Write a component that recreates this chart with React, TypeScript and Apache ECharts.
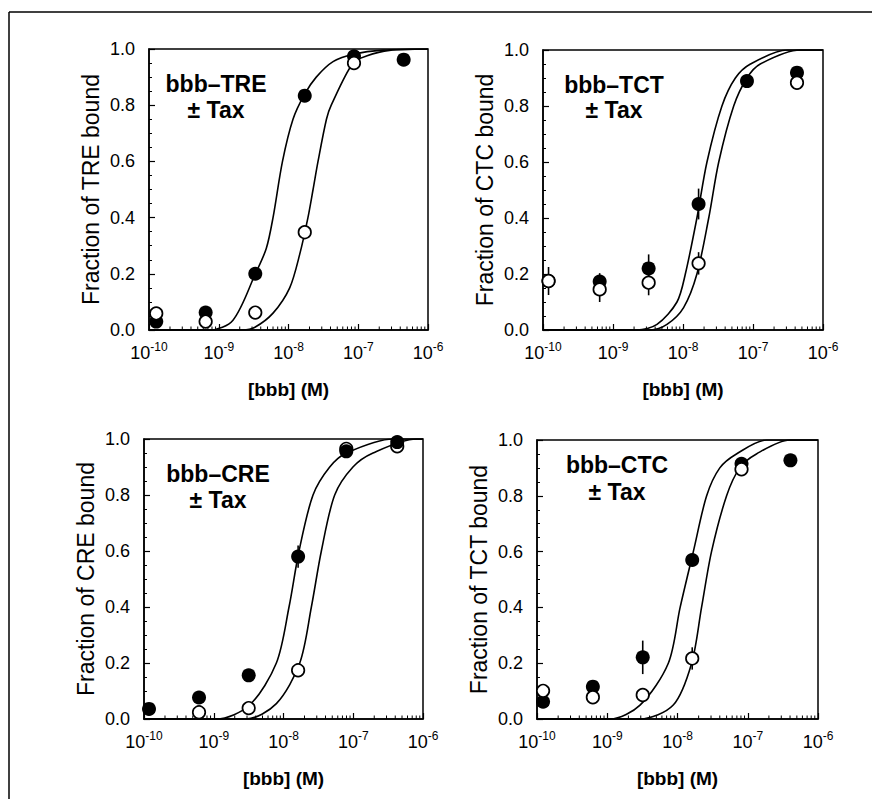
import React, { useEffect, useRef } from "react";
import * as echarts from "echarts";

const FONT = '"Liberation Sans", Arial, Helvetica, sans-serif';

// axis ticks
const X_MIN = 1e-10;
const X_MAX = 1e-6;
const MINOR_MULT = [2, 3, 4, 5, 6, 7, 8, 9];
const DECADES = [-10, -9, -8, -7];

// Panel 1: bbb-TRE
const P1_TITLE = "bbb\u2013TRE";
const P1_YNAME = "Fraction of TRE bound";
const P1_CONC = [1.27e-10, 6.49e-10, 3.34e-9, 1.71e-8, 8.69e-8, 4.48e-7];
const P1_FILLED = [0.03, 0.062, 0.2, 0.834, 0.974, 0.962];
const P1_OPEN = [0.059, 0.03, 0.062, 0.348, 0.95, null];
const P1_FILLED_ERR = [0, 0, 0, 0, 0, 0];
const P1_OPEN_ERR = [0, 0, 0, 0, 0, 0];
const P1_CURVE_FILLED = [
  [1e-10, 0], [7.4e-10, 0], [1.6e-9, 0.035], [3.35e-9, 0.2], [4.8e-9, 0.29], [6.0e-9, 0.4],
  [8.2e-9, 0.6], [1.16e-8, 0.75], [1.71e-8, 0.84], [2.5e-8, 0.9], [4.35e-8, 0.955],
  [8.7e-8, 0.982], [2.26e-7, 0.996], [1e-6, 1.0],
];
const P1_CURVE_OPEN = [
  [1e-10, 0], [2.2e-9, 0], [3.3e-9, 0.01], [6.0e-9, 0.06], [1.04e-8, 0.15], [1.45e-8, 0.27],
  [1.9e-8, 0.4], [2.25e-8, 0.5], [2.65e-8, 0.6], [3.5e-8, 0.75], [4.1e-8, 0.8],
  [8.4e-8, 0.95], [1.31e-7, 0.975], [2.8e-7, 0.995], [1e-6, 1.0],
];

// Panel 2: bbb-TCT
const P2_TITLE = "bbb\u2013TCT";
const P2_YNAME = "Fraction of CTC bound";
const P2_CONC = [1.2e-10, 6.45e-10, 3.23e-9, 1.67e-8, 8.2e-8, 4.25e-7];
const P2_FILLED = [0.175, 0.173, 0.22, 0.45, 0.889, 0.919];
const P2_OPEN = [0.175, 0.145, 0.169, 0.238, null, 0.883];
const P2_FILLED_ERR = [0, 0.03, 0.05, 0.055, 0, 0];
const P2_OPEN_ERR = [0.05, 0.045, 0.045, 0.04, 0, 0];
const P2_CURVE_FILLED = [
  [1e-10, 0], [2.2e-9, 0], [4.25e-9, 0.02], [8.2e-9, 0.1], [1.08e-8, 0.2], [1.58e-8, 0.4],
  [2.2e-8, 0.6], [3.6e-8, 0.8], [5.6e-8, 0.9], [9.2e-8, 0.95], [3.06e-7, 1.0], [1e-6, 1.0],
];
const P2_CURVE_OPEN = [
  [1e-10, 0], [3.4e-9, 0], [5.9e-9, 0.02], [1.02e-8, 0.08], [1.58e-8, 0.2], [2.33e-8, 0.4],
  [3.24e-8, 0.6], [5.3e-8, 0.8], [8.2e-8, 0.9], [1.27e-7, 0.95], [4.74e-7, 1.0], [1e-6, 1.0],
];

// Panel 3: bbb-CRE
const P3_TITLE = "bbb\u2013CRE";
const P3_YNAME = "Fraction of CRE bound";
const P3_CONC = [1.18e-10, 6.15e-10, 3.17e-9, 1.62e-8, 7.95e-8, 4.27e-7];
const P3_FILLED = [0.036, 0.077, 0.156, 0.58, 0.956, 0.989];
const P3_OPEN = [null, 0.024, 0.039, 0.174, 0.965, 0.974];
const P3_FILLED_ERR = [0, 0, 0, 0.04, 0, 0];
const P3_OPEN_ERR = [0, 0, 0, 0, 0, 0];
const P3_CURVE_FILLED = [
  [1e-10, 0], [1.09e-9, 0], [3.27e-9, 0.05], [7.9e-9, 0.2], [1.2e-8, 0.4], [1.67e-8, 0.6],
  [2.65e-8, 0.8], [4.6e-8, 0.9], [8.0e-8, 0.95], [3.72e-7, 1.0], [1e-6, 1.0],
];
const P3_CURVE_OPEN = [
  [1e-10, 0], [2.9e-9, 0], [7.9e-9, 0.055], [1.71e-8, 0.2], [2.51e-8, 0.4], [3.49e-8, 0.6],
  [5.42e-8, 0.8], [9.9e-8, 0.9], [1.92e-7, 0.95], [8.0e-7, 1.0], [1e-6, 1.0],
];

// Panel 4: bbb-CTC
const P4_TITLE = "bbb\u2013CTC";
const P4_YNAME = "Fraction of TCT bound";
const P4_CONC = [1.22e-10, 6.24e-10, 3.2e-9, 1.62e-8, 8.15e-8, 4.05e-7];
const P4_FILLED = [0.062, 0.116, 0.221, 0.57, 0.915, 0.927];
const P4_OPEN = [0.101, 0.078, 0.086, 0.217, 0.895, null];
const P4_FILLED_ERR = [0, 0, 0.06, 0.02, 0, 0];
const P4_OPEN_ERR = [0, 0, 0, 0.04, 0, 0];
const P4_CURVE_FILLED = [
  [1e-10, 0], [1.1e-9, 0], [2.93e-9, 0.05], [7.4e-9, 0.2], [1.09e-8, 0.4], [1.68e-8, 0.6],
  [2.6e-8, 0.8], [4.0e-8, 0.9], [6.9e-8, 0.95], [1.85e-7, 1.0], [1e-6, 1.0],
];
const P4_CURVE_OPEN = [
  [1e-10, 0], [2.93e-9, 0], [8.7e-9, 0.05], [1.59e-8, 0.2], [2.2e-8, 0.4], [3.05e-8, 0.6],
  [5.0e-8, 0.8], [7.7e-8, 0.9], [1.33e-7, 0.95], [3.96e-7, 1.0], [1e-6, 1.0],
];

const PANELS = [
  { title: P1_TITLE, yName: P1_YNAME, conc: P1_CONC, filled: P1_FILLED, open: P1_OPEN, fErr: P1_FILLED_ERR, oErr: P1_OPEN_ERR, cF: P1_CURVE_FILLED, cO: P1_CURVE_OPEN, openTop: true,
    grid: { left: 149, top: 49, width: 279, height: 281 }, titlePos: [216, 84, 110] },
  { title: P2_TITLE, yName: P2_YNAME, conc: P2_CONC, filled: P2_FILLED, open: P2_OPEN, fErr: P2_FILLED_ERR, oErr: P2_OPEN_ERR, cF: P2_CURVE_FILLED, cO: P2_CURVE_OPEN, openTop: true,
    grid: { left: 543, top: 50, width: 280, height: 280 }, titlePos: [614, 85, 110] },
  { title: P3_TITLE, yName: P3_YNAME, conc: P3_CONC, filled: P3_FILLED, open: P3_OPEN, fErr: P3_FILLED_ERR, oErr: P3_OPEN_ERR, cF: P3_CURVE_FILLED, cO: P3_CURVE_OPEN, openTop: false,
    grid: { left: 144, top: 439, width: 279, height: 280 }, titlePos: [218, 474, 500] },
  { title: P4_TITLE, yName: P4_YNAME, conc: P4_CONC, filled: P4_FILLED, open: P4_OPEN, fErr: P4_FILLED_ERR, oErr: P4_OPEN_ERR, cF: P4_CURVE_FILLED, cO: P4_CURVE_OPEN, openTop: true,
    grid: { left: 537, top: 440, width: 281, height: 279 }, titlePos: [617, 465, 492] },
];

function buildOption() {
  const grids: any[] = [];
  const xAxes: any[] = [];
  const yAxes: any[] = [];
  const series: any[] = [];
  const graphics: any[] = [];

  const minorVals: number[] = [];
  DECADES.forEach((d) => MINOR_MULT.forEach((m) => minorVals.push(m * Math.pow(10, d))));

  PANELS.forEach((p, i) => {
    grids.push({ ...p.grid, show: true, borderColor: "#000", borderWidth: 1.5, backgroundColor: "transparent" });
    xAxes.push({
      type: "log", logBase: 10, gridIndex: i, min: X_MIN, max: X_MAX,
      name: "[bbb] (M)", nameLocation: "middle", nameGap: 50,
      nameTextStyle: { fontFamily: FONT, fontSize: 19, fontWeight: "bold", color: "#000" },
      axisLine: { show: true, lineStyle: { color: "#000", width: 1.5 } },
      axisTick: { show: true, inside: true, length: 6, lineStyle: { color: "#000", width: 1.2 } },
      minorTick: { show: false },
      splitLine: { show: false },
      axisLabel: {
        margin: 11, color: "#000", fontFamily: FONT,
        formatter: (v: number) => `{b|10}{s|${Math.round(Math.log10(v))}}`,
        rich: {
          b: { fontSize: 18, fontFamily: FONT, color: "#000" },
          s: { fontSize: 12, fontFamily: FONT, color: "#000", padding: [0, 0, 11, 0] },
        },
      },
    });
    yAxes.push({
      type: "value", gridIndex: i, min: 0, max: 1, interval: 0.2,
      name: p.yName, nameLocation: "middle", nameGap: 47,
      nameTextStyle: { fontFamily: FONT, fontSize: 23, color: "#000" },
      axisLine: { show: true, lineStyle: { color: "#000", width: 1.5 } },
      axisTick: { show: true, inside: true, length: 6, lineStyle: { color: "#000", width: 1.2 } },
      minorTick: { show: true, splitNumber: 4, length: 3, lineStyle: { color: "#000", width: 1 } },
      splitLine: { show: false },
      axisLabel: { margin: 14, color: "#000", fontFamily: FONT, fontSize: 18, formatter: (v: number) => v.toFixed(1) },
    });

    const lineCommon = {
      type: "line", xAxisIndex: i, yAxisIndex: i, showSymbol: false, symbol: "none",
      smooth: 0.3, clip: true, silent: true,
      lineStyle: { color: "#000", width: 1.6 }, z: 2,
    };
    series.push({ ...lineCommon, data: p.cF });
    series.push({ ...lineCommon, data: p.cO });

    // log minor ticks on x axis
    series.push({
      type: "custom", xAxisIndex: i, yAxisIndex: i, silent: true, z: 3, clip: false,
      data: minorVals.map((v) => [v, 0]),
      renderItem: (params: any, api: any) => {
        const pt = api.coord([api.value(0), 0]);
        return { type: "line", shape: { x1: pt[0], y1: pt[1], x2: pt[0], y2: pt[1] - 3.5 }, style: { stroke: "#000", lineWidth: 1 } };
      },
    });

    // error bars
    const errData: any[] = [];
    p.conc.forEach((x, k) => {
      if (p.filled[k] != null && p.fErr[k] > 0) errData.push([x, p.filled[k], p.fErr[k]]);
      if (p.open[k] != null && p.oErr[k] > 0) errData.push([x, p.open[k], p.oErr[k]]);
    });
    series.push({
      type: "custom", xAxisIndex: i, yAxisIndex: i, silent: true, z: 3,
      data: errData,
      renderItem: (params: any, api: any) => {
        const x = api.value(0), y = api.value(1), e = api.value(2);
        const a = api.coord([x, y - e]);
        const b = api.coord([x, y + e]);
        return { type: "line", shape: { x1: a[0], y1: a[1], x2: b[0], y2: b[1] }, style: { stroke: "#000", lineWidth: 1.6 } };
      },
    });

    const filledData = p.conc.map((x, k) => [x, p.filled[k]]).filter((d) => d[1] != null);
    const openData = p.conc.map((x, k) => [x, p.open[k]]).filter((d) => d[1] != null);
    const filledSeries = {
      type: "scatter", xAxisIndex: i, yAxisIndex: i, symbol: "circle", symbolSize: 14, silent: true,
      itemStyle: { color: "#000", borderColor: "#000", borderWidth: 0, opacity: 1 }, data: filledData,
      z: p.openTop ? 4 : 6,
    };
    const openSeries = {
      type: "scatter", xAxisIndex: i, yAxisIndex: i, symbol: "circle", symbolSize: 12.5, silent: true,
      itemStyle: { color: "#fff", borderColor: "#000", borderWidth: 1.7, opacity: 1 }, data: openData,
      z: p.openTop ? 6 : 4,
    };
    series.push(filledSeries, openSeries);

    graphics.push({
      type: "text", x: p.titlePos[0], y: p.titlePos[1], z: 10,
      style: { text: p.title, fontFamily: FONT, fontSize: 23, fontWeight: "bold", fill: "#000", textAlign: "center", textVerticalAlign: "middle" },
    });
    graphics.push({
      type: "text", x: p.titlePos[0], y: p.titlePos[2], z: 10,
      style: { text: "\u00b1 Tax", fontFamily: FONT, fontSize: 23, fontWeight: "bold", fill: "#000", textAlign: "center", textVerticalAlign: "middle" },
    });
  });

  graphics.push({ type: "line", shape: { x1: 9, y1: 12, x2: 872, y2: 12 }, style: { stroke: "#000", lineWidth: 1.5 } });
  graphics.push({ type: "line", shape: { x1: 9, y1: 12, x2: 9, y2: 799 }, style: { stroke: "#000", lineWidth: 1.5 } });

  return {
    animation: false,
    backgroundColor: "#fff",
    textStyle: { fontFamily: FONT },
    grid: grids,
    xAxis: xAxes,
    yAxis: yAxes,
    series,
    graphic: graphics,
  };
}

export default function App() {
  const ref = useRef<HTMLDivElement>(null);
  useEffect(() => {
    if (!ref.current) return;
    const chart = echarts.init(ref.current, undefined, { renderer: "svg" });
    chart.setOption(buildOption() as any);
    return () => chart.dispose();
  }, []);
  return <div ref={ref} style={{ position: "fixed", left: 0, top: 0, width: 872, height: 799 }} />;
}
